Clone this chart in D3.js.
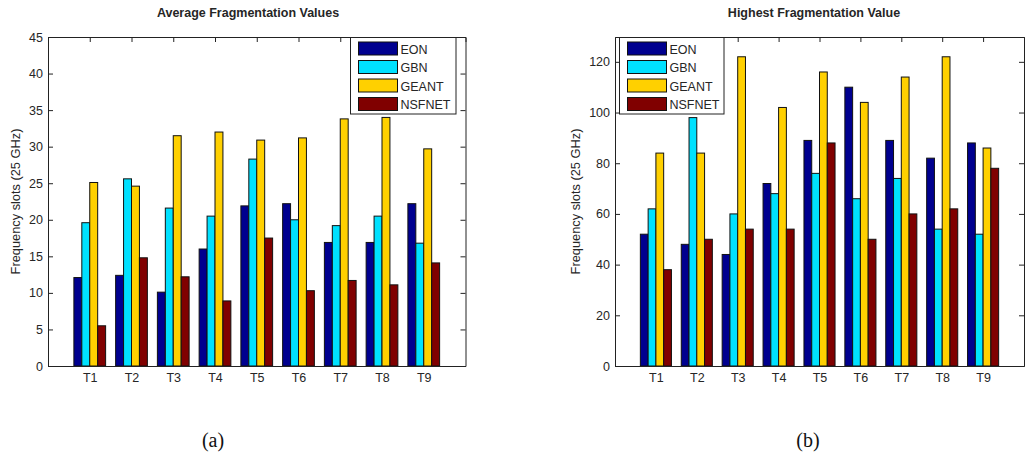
<!DOCTYPE html>
<html>
<head>
<meta charset="utf-8">
<script src="https://cdn.jsdelivr.net/npm/d3@7"></script>
<style>
html,body{margin:0;padding:0;background:#fff;}
svg{display:block;}
</style>
</head>
<body>
<svg id="c" width="1025" height="454"></svg>
<script>
const categories = ["T1","T2","T3","T4","T5","T6","T7","T8","T9"];
const seriesNames = ["EON","GBN","GEANT","NSFNET"];
const seriesColors = ["#00008f","#00e1ff","#ffd000","#800000"];

// (a) Average Fragmentation Values
const avgEON    = [12.1, 12.4, 10.1, 16.0, 21.9, 22.2, 16.9, 16.9, 22.2];
const avgGBN    = [19.6, 25.6, 21.6, 20.5, 28.3, 20.0, 19.2, 20.5, 16.8];
const avgGEANT  = [25.1, 24.6, 31.5, 32.0, 30.9, 31.2, 33.8, 34.0, 29.7];
const avgNSFNET = [5.5, 14.8, 12.2, 8.9, 17.5, 10.3, 11.7, 11.1, 14.1];
const avgTicks  = [0,5,10,15,20,25,30,35,40,45];

// (b) Highest Fragmentation Value
const maxEON    = [52, 48, 44, 72, 89, 110, 89, 82, 88];
const maxGBN    = [62, 98, 60, 68, 76, 66, 74, 54, 52];
const maxGEANT  = [84, 84, 122, 102, 116, 104, 114, 122, 86];
const maxNSFNET = [38, 50, 54, 54, 88, 50, 60, 62, 78];
const maxTicks  = [0,20,40,60,80,100,120];

const svg = d3.select("#c");
const FONT = "'Liberation Sans', Arial, sans-serif";
const TXT = "#262626";

function drawChart(cfg) {
  const {x0, x1, y0, y1, yMax, ticks, series, title, titleX, ylabelX, legend, caption, captionX} = cfg;
  const g = svg.append("g");
  const x = d3.scaleLinear().domain([0, 10]).range([x0, x1]);
  const y = d3.scaleLinear().domain([0, yMax]).range([y1, y0]);
  const bw = 0.19;

  // bars
  series.forEach((vals, si) => {
    g.append("g").selectAll("rect").data(vals).join("rect")
      .attr("x", (d, i) => x(i + 1 + (si - 2) * bw))
      .attr("y", d => y(d))
      .attr("width", x(bw) - x(0))
      .attr("height", d => y(0) - y(d))
      .attr("fill", seriesColors[si])
      .attr("stroke", "#111")
      .attr("stroke-width", 1);
  });

  // axes box
  const yAxis = d3.axisLeft(y).tickValues(ticks).tickSize(-5).tickPadding(5);
  const yAxisR = d3.axisRight(y).tickValues(ticks).tickSize(-5).tickFormat("");
  const xAxis = d3.axisBottom(x).tickValues(d3.range(1, 10)).tickSize(0).tickPadding(7)
      .tickFormat(d => categories[d - 1]);
  const xAxisT = d3.axisTop(x).tickValues(d3.range(1, 10)).tickSize(-5).tickFormat("");

  const ay = g.append("g").attr("transform", `translate(${x0},0)`).call(yAxis);
  const ayr = g.append("g").attr("transform", `translate(${x1},0)`).call(yAxisR);
  const ax = g.append("g").attr("transform", `translate(0,${y1})`).call(xAxis);
  const axt = g.append("g").attr("transform", `translate(0,${y0})`).call(xAxisT);
  [ay, ayr, ax, axt].forEach(a => {
    a.selectAll(".domain").attr("stroke", "#222").attr("stroke-width", 1);
    a.selectAll(".tick line").attr("stroke", "#222");
    a.selectAll("text").attr("fill", TXT).style("font-family", FONT).style("font-size", "12.5px");
  });

  // title
  g.append("text").attr("x", titleX).attr("y", 17).attr("text-anchor", "middle")
    .style("font-family", FONT).style("font-size", "12.5px").style("font-weight", "bold")
    .attr("fill", TXT).text(title);

  // y label
  g.append("text").attr("transform", `translate(${ylabelX},${(y0 + y1) / 2}) rotate(-90)`)
    .attr("text-anchor", "middle").style("font-family", FONT).style("font-size", "12.8px")
    .attr("fill", TXT).text("Frequency slots (25 GHz)");

  // legend
  const lg = g.append("g");
  lg.append("rect").attr("x", legend.x).attr("y", legend.y).attr("width", legend.w).attr("height", legend.h)
    .attr("fill", "#fff").attr("stroke", "#222");
  seriesNames.forEach((n, i) => {
    const ry = legend.y + 4.5 + i * 18.5;
    lg.append("rect").attr("x", legend.x + 8).attr("y", ry).attr("width", 39).attr("height", 13)
      .attr("fill", seriesColors[i]).attr("stroke", "#111");
    lg.append("text").attr("x", legend.x + 50).attr("y", ry + 11.5)
      .style("font-family", FONT).style("font-size", "12.5px").attr("fill", TXT).text(n);
  });

  // caption
  svg.append("text").attr("x", captionX).attr("y", 447).attr("text-anchor", "middle")
    .style("font-family", "'Liberation Serif', 'DejaVu Serif', serif").style("font-size", "20px")
    .attr("fill", "#111").text(caption);
}

drawChart({
  x0: 48, x1: 465.5, y0: 37, y1: 366, yMax: 45, ticks: avgTicks,
  series: [avgEON, avgGBN, avgGEANT, avgNSFNET],
  title: "Average Fragmentation Values", titleX: 248, ylabelX: 20,
  legend: {x: 350.5, y: 37.5, w: 105.5, h: 76.5},
  caption: "(a)", captionX: 213
});

drawChart({
  x0: 615, x1: 1024, y0: 37, y1: 366, yMax: 129.8, ticks: maxTicks,
  series: [maxEON, maxGBN, maxGEANT, maxNSFNET],
  title: "Highest Fragmentation Value", titleX: 814, ylabelX: 580,
  legend: {x: 619.5, y: 37.5, w: 104.5, h: 76.5},
  caption: "(b)", captionX: 808
});
</script>
</body>
</html>
